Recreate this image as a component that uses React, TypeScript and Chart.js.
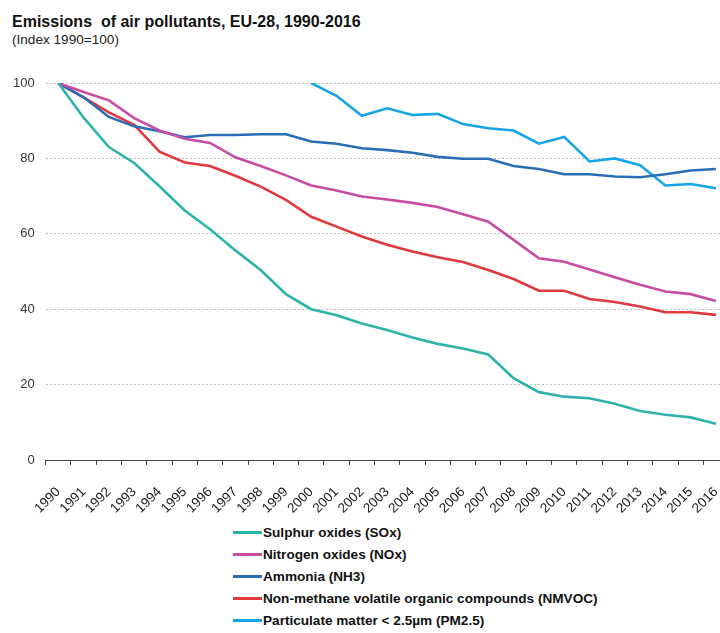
import React, { useEffect, useRef } from "react";
import { Chart, registerables } from "chart.js";

Chart.register(...registerables);

const years = [
  "1990", "1991", "1992", "1993", "1994", "1995", "1996", "1997", "1998", "1999",
  "2000", "2001", "2002", "2003", "2004", "2005", "2006", "2007", "2008", "2009",
  "2010", "2011", "2012", "2013", "2014", "2015", "2016",
];

const sox = [100, 90.8, 83.0, 78.8, 72.6, 66.2, 61.2, 55.6, 50.4, 44.0, 40.0, 38.4, 36.2, 34.5, 32.5, 30.8, 29.6, 28.0, 21.7, 18.0, 16.8, 16.4, 14.9, 13.0, 12.0, 11.3, 9.6];
const nox = [100, 97.6, 95.4, 90.7, 87.4, 85.2, 84.1, 80.3, 78.0, 75.5, 72.8, 71.5, 69.9, 69.1, 68.2, 67.1, 65.2, 63.2, 58.4, 53.5, 52.6, 50.5, 48.5, 46.5, 44.7, 44.0, 42.2];
const nh3 = [100, 96.2, 91.0, 88.5, 87.2, 85.6, 86.2, 86.2, 86.4, 86.4, 84.5, 83.9, 82.7, 82.2, 81.5, 80.4, 79.9, 79.9, 78.0, 77.2, 75.8, 75.8, 75.2, 75.0, 75.8, 76.8, 77.2];
const nmvoc = [100, 96.2, 92.2, 88.9, 81.8, 78.9, 78.0, 75.4, 72.5, 69.0, 64.5, 61.9, 59.3, 57.1, 55.3, 53.8, 52.5, 50.4, 48.0, 44.9, 44.9, 42.7, 41.9, 40.7, 39.2, 39.2, 38.5];
const pm25 = [null, null, null, null, null, null, null, null, null, null, 100, 96.6, 91.3, 93.3, 91.5, 91.8, 89.1, 88.0, 87.4, 83.9, 85.7, 79.2, 80.0, 78.2, 72.8, 73.2, 72.1];

const seriesNames = [
  "Sulphur oxides (SOx)",
  "Nitrogen oxides (NOx)",
  "Ammonia (NH3)",
  "Non-methane volatile organic compounds (NMVOC)",
  "Particulate matter < 2.5µm (PM2.5)",
];
const seriesValues = [sox, nox, nh3, nmvoc, pm25];
const seriesColors = ["#2EB3AB", "#C64DA3", "#2B6DB5", "#E0393E", "#14A5E6"];

const yTicks = [0, 20, 40, 60, 80, 100];

const FONT = "Arial, 'Liberation Sans', sans-serif";

export default function App() {
  const canvasRef = useRef<HTMLCanvasElement | null>(null);

  useEffect(() => {
    const canvas = canvasRef.current;
    if (!canvas) return;
    const chart = new Chart(canvas, {
      type: "line",
      data: {
        labels: years,
        datasets: seriesNames.map((name, i) => ({
          label: name,
          data: seriesValues[i],
          borderColor: seriesColors[i],
          backgroundColor: seriesColors[i],
          borderWidth: 2.6,
          pointRadius: 0,
          pointHoverRadius: 0,
          tension: 0,
          fill: false,
          spanGaps: false,
        })),
      },
      options: {
        animation: false,
        responsive: false,
        devicePixelRatio: 1,
        layout: { padding: { left: 0, top: 83, right: 31.4, bottom: 0 } },
        plugins: {
          legend: { display: false },
          title: { display: false },
          tooltip: { enabled: false },
        },
        scales: {
          x: {
            type: "category",
            offset: true,
            grid: {
              display: true,
              offset: true,
              drawOnChartArea: false,
              drawTicks: true,
              tickLength: 5,
              color: "#444",
              lineWidth: 1,
            },
            border: { display: true, color: "#444", width: 1 },
            ticks: {
              autoSkip: false,
              maxRotation: 45,
              minRotation: 45,
              color: "#1a1a1a",
              font: { family: FONT, size: 13.5 },
              padding: 19,
            },
            afterFit: (scale: any) => {
              scale.height = 60;
            },
          },
          y: {
            min: 0,
            max: 100,
            afterBuildTicks: (scale: any) => {
              scale.ticks = yTicks.map((v) => ({ value: v }));
            },
            grid: {
              color: "#bdbdbd",
              lineWidth: 1,
              drawTicks: false,
            },
            border: { display: false, dash: [2, 2] },
            ticks: {
              color: "#333",
              font: { family: FONT, size: 13 },
              padding: 11,
            },
            afterFit: (scale: any) => {
              scale.width = 45.65;
            },
          },
        },
      },
    });
    return () => chart.destroy();
  }, []);

  return (
    <div
      style={{
        position: "fixed",
        left: 0,
        top: 0,
        width: 720,
        height: 633,
        overflow: "hidden",
        background: "#fff",
        fontFamily: FONT,
      }}
    >
      <div
        style={{
          position: "absolute",
          left: 12,
          top: 13.5,
          fontSize: 16,
          lineHeight: 1,
          fontWeight: "bold",
          color: "#111",
          whiteSpace: "pre",
        }}
      >
        {"Emissions  of air pollutants, EU-28, 1990-2016"}
      </div>
      <div
        style={{
          position: "absolute",
          left: 12,
          top: 32.5,
          fontSize: 13.6,
          lineHeight: 1,
          color: "#222",
          whiteSpace: "pre",
        }}
      >
        {"(Index 1990=100)"}
      </div>
      <canvas
        ref={canvasRef}
        width={760}
        height={520}
        style={{ position: "absolute", left: 0, top: 0, width: 760, height: 520 }}
      />
      <div style={{ position: "absolute", left: 233, top: 521 }}>
        {seriesNames.map((name, i) => (
          <div
            key={name}
            style={{ display: "flex", alignItems: "center", height: 22.2 }}
          >
            <div style={{ width: 29, height: 3, background: seriesColors[i] }} />
            <div
              style={{
                fontSize: 13.6,
                fontWeight: "bold",
                color: "#111",
                whiteSpace: "pre",
                marginLeft: 1,
              }}
            >
              {name}
            </div>
          </div>
        ))}
      </div>
    </div>
  );
}
